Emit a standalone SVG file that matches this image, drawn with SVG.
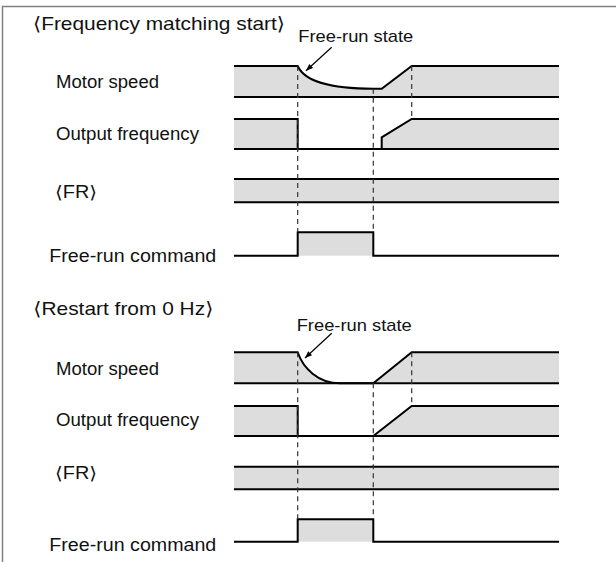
<svg xmlns="http://www.w3.org/2000/svg" width="616" height="562" viewBox="0 0 616 562">
<defs>
<style>
.t{font-family:"Liberation Sans",Arial,"DejaVu Sans",sans-serif;font-size:17.5px;fill:#111}
.h{font-size:18.5px}
.s{font-size:17px}
.sig{fill:none;stroke:#000;stroke-width:2}
.band{fill:#dddddd;stroke:none}
.dash{fill:none;stroke:#333;stroke-width:1.2;stroke-dasharray:5,4}
.frame{fill:none;stroke:#808080;stroke-width:1.5}
.arr{fill:none;stroke:#000;stroke-width:1.2}
</style>
<marker id="ah" viewBox="0 0 10 10" refX="10" refY="5" markerWidth="9" markerHeight="7" markerUnits="userSpaceOnUse" orient="auto">
<path d="M0,1 L10,5 L0,9 Z" fill="#000"/>
</marker>
</defs>
<path class="frame" d="M2.5,562 V6.5 H616"/>

<g id="section1">
<text class="t h" x="33" y="29.5" textLength="252" lengthAdjust="spacingAndGlyphs">⟨Frequency matching start⟩</text>
<g id="motor1">
<path class="band" d="M234,66 H297.7 C303,78 320,88.7 373.3,88.7 H381.7 L411.7,66 H559 V97 H234 Z"/>
<path class="sig" d="M234,66 H297.7 C303,78 320,88.7 373.3,88.7 H381.7 L411.7,66 H559"/>
<path class="sig" d="M234,97 H559"/>
<text class="t" x="56" y="88" textLength="103" lengthAdjust="spacingAndGlyphs">Motor speed</text>
</g>
<g id="out1">
<path class="band" d="M234,119 H297.7 V149 H234 Z M381.7,149 V137.3 L411.7,119 H559 V149 Z"/>
<path class="sig" d="M234,119 H297.7 V149"/>
<path class="sig" d="M381.7,149 V137.3 L411.7,119 H559"/>
<path class="sig" d="M234,149 H559"/>
<text class="t" x="56" y="140" textLength="143" lengthAdjust="spacingAndGlyphs">Output frequency</text>
</g>
<g id="fr1">
<rect class="band" x="234" y="179" width="325" height="23.3"/>
<path class="sig" d="M234,179 H559 M234,202.3 H559"/>
<text class="t" x="55" y="198" textLength="42" lengthAdjust="spacingAndGlyphs">⟨FR⟩</text>
</g>
<g id="cmd1">
<rect class="band" x="297.7" y="232.3" width="75.6" height="23.4"/>
<path class="sig" d="M234,255.7 H297.7 V232.3 H373.3 V255.7 H559"/>
<text class="t" x="49.3" y="261.5" textLength="167" lengthAdjust="spacingAndGlyphs">Free-run command</text>
</g>
<g id="state1">
<text class="t s" x="298.3" y="42" textLength="115" lengthAdjust="spacingAndGlyphs">Free-run state</text>
</g>
</g>

<g id="section2">
<text class="t h" x="33.3" y="315" textLength="180" lengthAdjust="spacingAndGlyphs">⟨Restart from 0 Hz⟩</text>
<g id="motor2">
<path class="band" d="M234,352.3 H297.7 C303,368 318,383.3 340,383.3 H373.3 L411.7,352.3 H559 V383.3 H234 Z"/>
<path class="sig" d="M234,352.3 H297.7 C303,368 318,383.3 340,383.3 H373.3 L411.7,352.3 H559"/>
<path class="sig" d="M234,383.3 H559"/>
<text class="t" x="56" y="375" textLength="103" lengthAdjust="spacingAndGlyphs">Motor speed</text>
</g>
<g id="out2">
<path class="band" d="M234,406 H297.7 V436 H234 Z M373.3,436 L411.7,406 H559 V436 Z"/>
<path class="sig" d="M234,406 H297.7 V436"/>
<path class="sig" d="M373.3,436 L411.7,406 H559"/>
<path class="sig" d="M234,436 H559"/>
<text class="t" x="56" y="426" textLength="143" lengthAdjust="spacingAndGlyphs">Output frequency</text>
</g>
<g id="fr2">
<rect class="band" x="234" y="466.7" width="325" height="22.6"/>
<path class="sig" d="M234,466.7 H559 M234,489.3 H559"/>
<text class="t" x="55" y="479" textLength="42" lengthAdjust="spacingAndGlyphs">⟨FR⟩</text>
</g>
<g id="cmd2">
<rect class="band" x="297.7" y="519.3" width="75.6" height="22.4"/>
<path class="sig" d="M234,541.7 H297.7 V519.3 H373.3 V541.7 H559"/>
<text class="t" x="49.3" y="551" textLength="167" lengthAdjust="spacingAndGlyphs">Free-run command</text>
</g>
<g id="state2">
<text class="t s" x="296.7" y="330.5" textLength="115" lengthAdjust="spacingAndGlyphs">Free-run state</text>
</g>
</g>

<g id="connectors">
<path class="dash" d="M297.7,66 V232.3 M373.3,88.7 V232.3 M411.7,66 V119"/>
<path class="dash" d="M297.7,352.3 V519.3 M373.3,383.3 V519.3 M411.7,352.3 V406"/>
<path class="arr" marker-end="url(#ah)" d="M331.7,47.3 L306,70.7"/>
<path class="arr" marker-end="url(#ah)" d="M331.7,333.3 L305,358"/>
</g>
</svg>
